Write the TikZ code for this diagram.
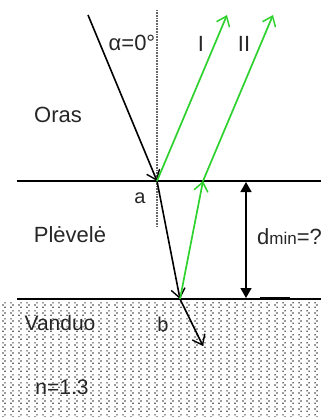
\documentclass[tikz,border=0pt]{standalone}
\usepackage{fontspec}
\setmainfont{Liberation Sans}
\usetikzlibrary{arrows.meta}
\definecolor{raygreen}{RGB}{45,210,45}
\definecolor{dotgray}{RGB}{55,55,55}
\begin{document}
\begin{tikzpicture}[x=1pt,y=-1pt,
  lbl/.style={inner sep=0pt, text=black!85, font=\fontsize{22}{22}\selectfont},
  surface/.style={line width=2.2pt},
  blackray/.style={line width=1.6pt, -{Straight Barb[length=9pt,width=14pt,line width=1.4pt]}},
  greenray/.style={raygreen, line width=1.7pt, -{Straight Barb[length=9pt,width=14pt,line width=1.5pt]}},
  normalline/.style={gray!80!black, line width=1.3pt, dash pattern=on 0.8pt off 0.8pt},
  dimarrow/.style={line width=1.5pt, {Triangle[length=10pt,width=11pt]}-{Triangle[length=10pt,width=11pt]}}]
\useasboundingbox (0,0) rectangle (332,417);
% water pattern
\begin{scope}
\clip (0,300) rectangle (321,417);
\foreach \i in {0,...,40}{
  \foreach \j in {0,...,15}{
    \pgfmathsetmacro{\px}{3+8*\i}
    \pgfmathsetmacro{\py}{305+8*\j}
    \pgfmathtruncatemacro{\parity}{mod(\i+\j,2)}
    \ifnum\parity=0
      \fill[dotgray] (\px+2,\py-2.2) circle (0.8) (\px,\py) circle (0.8) (\px+2,\py+2.2) circle (0.8);
    \else
      \fill[dotgray] (\px,\py-2.2) circle (0.8) (\px+2,\py) circle (0.8) (\px,\py+2.2) circle (0.8);
    \fi
  }
}
\end{scope}
% coordinates
\coordinate (src) at (88,15);
\coordinate (a) at (157,181);
\coordinate (b) at (180,299);
\coordinate (out) at (203,346);
\coordinate (c) at (203,181);
\coordinate (tI) at (227,15);
\coordinate (tII) at (273,15);
\coordinate (nT) at (157,10);
\coordinate (nB) at (157,227);
\coordinate (s1L) at (17,181);
\coordinate (s1R) at (321,181);
\coordinate (s2L) at (17,299);
\coordinate (s2R) at (321,299);
\coordinate (dT) at (246,182);
\coordinate (dB) at (246,298);
\coordinate (thL) at (260,298.5);
\coordinate (thR) at (290,298.5);
% normal
\draw[normalline] (nT) -- (nB);
% surfaces
\draw[surface] (s1L) -- (s1R);
\draw[surface] (s2L) -- (s2R);
\draw[line width=3pt] (thL) -- (thR);
% rays
\draw[blackray] (src) -- (a);
\draw[blackray] (a) -- (b);
\draw[blackray] (b) -- (out);
\draw[greenray] (a) -- (tI);
\draw[greenray] (b) -- (c);
\draw[greenray] (c) -- (tII);
% dimension
\draw[dimarrow] (dT) -- (dB);
% labels
\node[lbl] (alpha) at (132,43) {α=0°};
\node[lbl] (lI) at (201,44) {I};
\node[lbl] (lII) at (244,44) {II};
\node[lbl] (oras) at (58,115) {Oras};
\node[lbl, font=\fontsize{20}{20}\selectfont] (la) at (140,198) {a};
\node[lbl] (plevele) at (70,235) {Plėvelė};
\node[lbl, anchor=west] (dmin) at (257,237) {d{\fontsize{17}{17}\selectfont min}=?};
\node[lbl, font=\fontsize{21}{21}\selectfont] (vanduo) at (60,323) {Vanduo};
\node[lbl, font=\fontsize{20}{20}\selectfont] (lb) at (163,324) {b};
\node[lbl, font=\fontsize{21}{21}\selectfont] (nval) at (62,387) {n=1.3};
\end{tikzpicture}
\end{document}
